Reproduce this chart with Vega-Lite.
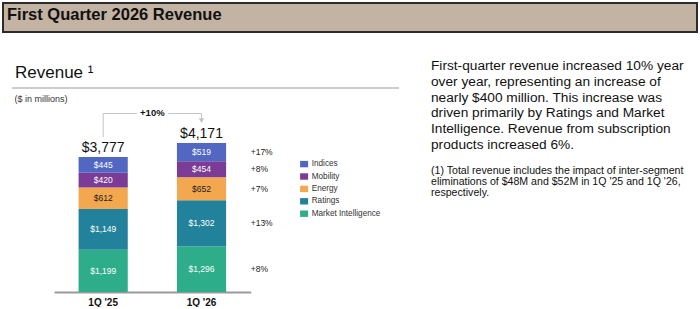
{
  "$schema": "https://vega.github.io/schema/vega-lite/v6.json",
  "padding": {"left": 2, "top": 2, "right": 0, "bottom": 0},
  "background": "white",
  "config": {"view": {"stroke": null}, "font": "Liberation Sans"},
  "datasets": {
    "segments": [
      {"quarter": "1Q '25", "segment": "Market Intelligence", "value": 1199},
      {"quarter": "1Q '25", "segment": "Ratings", "value": 1149},
      {"quarter": "1Q '25", "segment": "Energy", "value": 612},
      {"quarter": "1Q '25", "segment": "Mobility", "value": 420},
      {"quarter": "1Q '25", "segment": "Indices", "value": 445},
      {"quarter": "1Q '26", "segment": "Market Intelligence", "value": 1296, "growth": "+8%"},
      {"quarter": "1Q '26", "segment": "Ratings", "value": 1302, "growth": "+13%"},
      {"quarter": "1Q '26", "segment": "Energy", "value": 652, "growth": "+7%"},
      {"quarter": "1Q '26", "segment": "Mobility", "value": 454, "growth": "+8%"},
      {"quarter": "1Q '26", "segment": "Indices", "value": 519, "growth": "+17%"}
    ],
    "totals": [
      {"quarter": "1Q '25", "total": 3777},
      {"quarter": "1Q '26", "total": 4171}
    ],
    "note": [{"label": "+10%"}]
  },
  "vconcat": [
    {
      "width": 694,
      "height": 29,
      "data": {"values": []},
      "mark": {"type": "rule"},
      "encoding": {},
      "view": {"fill": "#c3b3a3", "stroke": "#2b2b2b", "strokeWidth": 2},
      "title": {
        "text": "First Quarter 2026 Revenue",
        "anchor": "start",
        "frame": "group",
        "fontSize": 16.5,
        "fontWeight": "bold",
        "color": "#111111",
        "dx": 4,
        "offset": -20
      }
    },
    {
      "hconcat": [
        {
          "width": 1,
          "height": 1,
          "data": {"values": []},
          "mark": {"type": "rule"},
          "encoding": {}
        },
        {
          "hconcat": [
            {
              "width": 387,
              "height": 204,
              "title": {
                "text": "Revenue ¹",
                "anchor": "start",
                "frame": "group",
                "fontSize": 17,
                "fontWeight": "normal",
                "color": "#111111",
                "dx": 3,
                "offset": 5
              },
              "layer": [
                {
                  "data": {"name": "segments"},
                  "transform": [{"window": [{"op": "row_number", "as": "rank"}], "groupby": ["quarter"]}],
                  "mark": {"type": "bar", "width": {"band": 0.5}},
                  "encoding": {
                    "x": {
                      "field": "quarter",
                      "type": "nominal",
                      "sort": null,
                      "scale": {"domain": ["1Q '25", "1Q '26"], "range": [42, 238.7], "paddingInner": 0, "paddingOuter": 0},
                      "axis": {
                        "title": null,
                        "ticks": false,
                        "domain": true,
                        "domainColor": "#9a9a9a",
                        "domainWidth": 2,
                        "labelFontSize": 10,
                        "labelFontWeight": "bold",
                        "labelColor": "#111111",
                        "labelPadding": 5,
                        "labelAngle": 0,
                        "grid": false
                      }
                    },
                    "y": {
                      "field": "value",
                      "type": "quantitative",
                      "stack": "zero",
                      "scale": {"domain": [0, 5779], "nice": false, "zero": true},
                      "axis": {
                        "title": "($ in millions)",
                        "labels": false,
                        "ticks": false,
                        "domain": false,
                        "grid": false,
                        "titleAngle": 0,
                        "titleAlign": "left",
                        "titleBaseline": "middle",
                        "titleX": 2,
                        "titleY": 10,
                        "titleFontSize": 9,
                        "titleFontWeight": "normal",
                        "titleColor": "#333333"
                      }
                    },
                    "order": {"field": "rank", "type": "quantitative"},
                    "color": {
                      "field": "segment",
                      "type": "nominal",
                      "scale": {
                        "domain": ["Indices", "Mobility", "Energy", "Ratings", "Market Intelligence"],
                        "range": ["#5167c2", "#7b3c96", "#f3a74f", "#23829b", "#2ead8a"]
                      },
                      "legend": {
                        "orient": "none",
                        "legendX": 297,
                        "legendY": 157,
                        "title": null,
                        "padding": 0,
                        "symbolType": "M-1,-0.8H1V0.8H-1Z",
                        "symbolSize": 64,
                        "symbolStrokeWidth": 0,
                        "symbolOpacity": 1,
                        "labelFontSize": 8.2,
                        "labelColor": "#333333",
                        "labelOffset": 3.5,
                        "rowPadding": 3.4
                      }
                    }
                  }
                },
                {
                  "data": {"name": "segments"},
                  "transform": [{"window": [{"op": "row_number", "as": "rank"}], "groupby": ["quarter"]}],
                  "mark": {"type": "text", "fontSize": 8.5, "baseline": "middle"},
                  "encoding": {
                    "x": {"field": "quarter", "type": "nominal", "sort": null},
                    "y": {"field": "value", "type": "quantitative", "stack": "zero", "bandPosition": 0.5},
                    "order": {"field": "rank", "type": "quantitative"},
                    "detail": {"field": "segment"},
                    "text": {"field": "value", "type": "quantitative", "format": "$,.0f"},
                    "color": {"condition": {"test": "datum.segment === 'Energy'", "value": "#222222"}, "value": "#ffffff"}
                  }
                },
                {
                  "data": {"name": "segments"},
                  "transform": [
                    {"window": [{"op": "row_number", "as": "rank"}], "groupby": ["quarter"]},
                    {"filter": "datum.quarter === \"1Q '26\""}
                  ],
                  "mark": {"type": "text", "fontSize": 8.5, "baseline": "middle", "align": "left", "color": "#222222"},
                  "encoding": {
                    "x": {"field": "quarter", "type": "nominal", "sort": null, "bandPosition": 1},
                    "y": {"field": "value", "type": "quantitative", "stack": "zero", "bandPosition": 0.5},
                    "order": {"field": "rank", "type": "quantitative"},
                    "detail": {"field": "segment"},
                    "text": {"field": "growth", "type": "nominal"}
                  }
                },
                {
                  "data": {"name": "segments"},
                  "transform": [
                    {"aggregate": [{"op": "sum", "field": "value", "as": "stackTop"}], "groupby": ["quarter"]},
                    {"lookup": "quarter", "from": {"data": {"name": "totals"}, "key": "quarter", "fields": ["total"]}}
                  ],
                  "mark": {"type": "text", "fontSize": 14, "baseline": "alphabetic", "dy": -5, "color": "#111111"},
                  "encoding": {
                    "x": {"field": "quarter", "type": "nominal", "sort": null},
                    "y": {"field": "stackTop", "type": "quantitative"},
                    "text": {"field": "total", "type": "quantitative", "format": "$,.0f"}
                  }
                },
                {
                  "data": {"name": "note"},
                  "mark": {"type": "rule", "color": "#9b9b9b", "strokeWidth": 1.2},
                  "encoding": {"y": {"datum": 5779}}
                },
                {
                  "data": {"name": "note"},
                  "mark": {"type": "rule", "color": "#c4c4c4", "strokeWidth": 1},
                  "encoding": {"x": {"datum": "1Q '25"}, "y": {"datum": 4391}, "y2": {"datum": 5057}}
                },
                {
                  "data": {"name": "note"},
                  "mark": {"type": "rule", "color": "#c4c4c4", "strokeWidth": 1},
                  "encoding": {"x": {"datum": "1Q '25"}, "x2": {"datum": "1Q '26"}, "y": {"datum": 5057}}
                },
                {
                  "data": {"name": "note"},
                  "mark": {"type": "rule", "color": "#c4c4c4", "strokeWidth": 1},
                  "encoding": {"x": {"datum": "1Q '26"}, "y": {"datum": 5057}, "y2": {"datum": 4901}}
                },
                {
                  "data": {"name": "note"},
                  "mark": {"type": "point", "shape": "triangle-down", "filled": true, "color": "#c4c4c4", "size": 30, "opacity": 1},
                  "encoding": {"x": {"datum": "1Q '26"}, "y": {"datum": 4858}}
                },
                {
                  "data": {"name": "note"},
                  "mark": {"type": "text", "fontSize": 9.5, "fontWeight": "bold", "baseline": "middle", "color": "#ffffff", "stroke": "#ffffff", "strokeWidth": 7},
                  "encoding": {"x": {"datum": "1Q '25", "bandPosition": 1}, "y": {"datum": 5057}, "text": {"field": "label"}}
                },
                {
                  "data": {"name": "note"},
                  "mark": {"type": "text", "fontSize": 9.5, "fontWeight": "bold", "baseline": "middle", "color": "#111111"},
                  "encoding": {"x": {"datum": "1Q '25", "bandPosition": 1}, "y": {"datum": 5057}, "text": {"field": "label"}}
                }
              ]
            },
            {
              "width": 257,
              "height": 0,
              "data": {"values": []},
              "mark": {"type": "rule"},
              "encoding": {},
              "title": {
                "text": [
                  "First-quarter revenue increased 10% year",
                  "over year, representing an increase of",
                  "nearly $400 million. This increase was",
                  "driven primarily by Ratings and Market",
                  "Intelligence. Revenue from subscription",
                  "products increased 6%."
                ],
                "subtitle": [
                  "(1) Total revenue includes the impact of inter-segment",
                  "eliminations of $48M and $52M in 1Q '25 and 1Q '26,",
                  "respectively."
                ],
                "anchor": "start",
                "frame": "group",
                "fontSize": 13.7,
                "fontWeight": "normal",
                "lineHeight": 15.8,
                "color": "#111111",
                "subtitleFontSize": 10.6,
                "subtitleLineHeight": 11,
                "subtitleColor": "#111111",
                "subtitlePadding": 14.6,
                "offset": -111
              }
            }
          ],
          "spacing": 32,
          "bounds": "flush"
        }
      ],
      "spacing": 8,
      "bounds": "flush"
    }
  ],
  "spacing": 56,
  "bounds": "flush"
}
